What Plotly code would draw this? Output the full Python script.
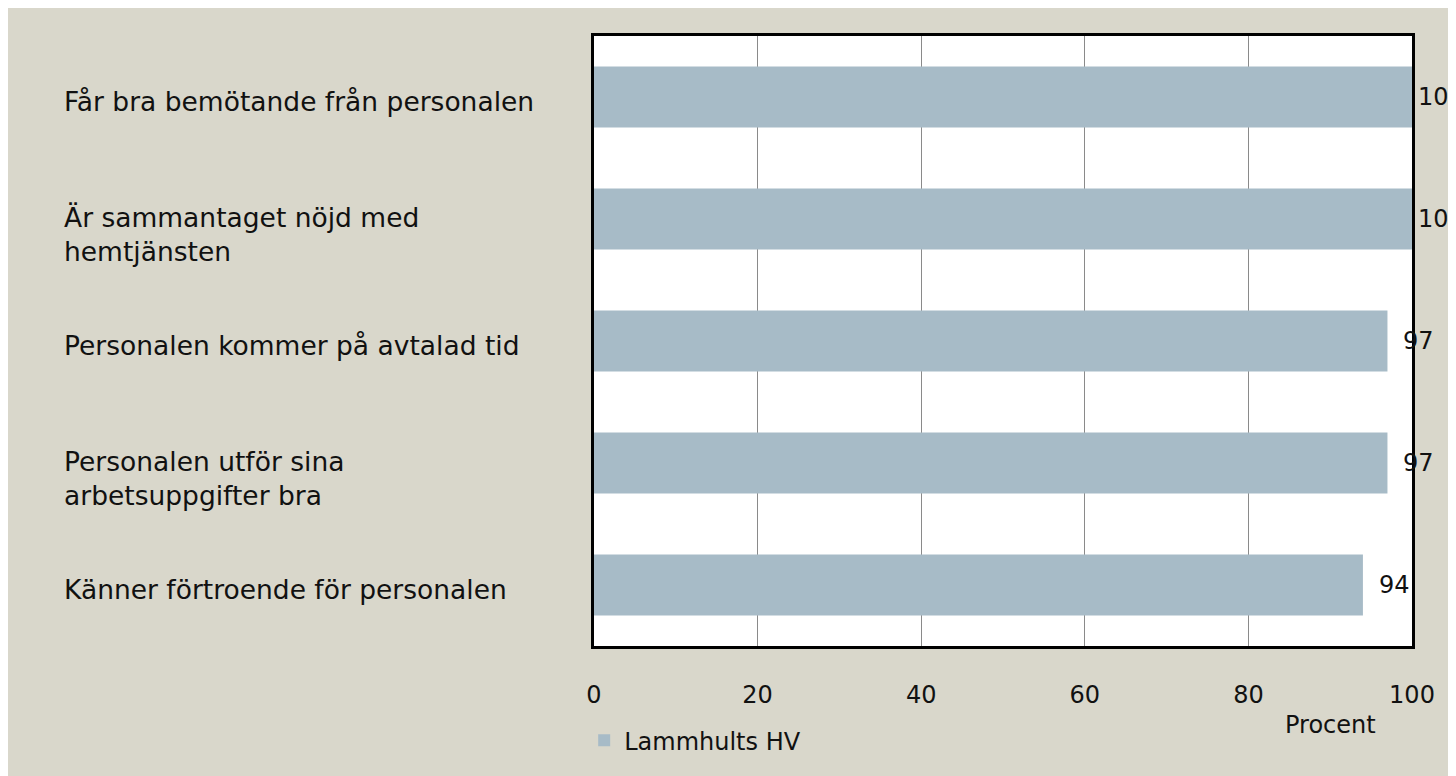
import plotly.graph_objects as go

categories = [
    "Får bra bemötande från personalen",
    "Är sammantaget nöjd med<br>hemtjänsten",
    "Personalen kommer på avtalad tid",
    "Personalen utför sina<br>arbetsuppgifter bra",
    "Känner förtroende för personalen",
]
values = [100, 100, 97, 97, 94]
series_name = "Lammhults HV"
x_ticks = [0, 20, 40, 60, 80, 100]
x_title = "Procent"

FONT = "DejaVu Sans"
FS_CAT = 26.5
FS = 24
BG = "#D9D7CB"
BAR = "#A7BBC7"
TXT = "#111111"

fig = go.Figure()
fig.add_trace(go.Bar(
    y=list(range(len(categories))), x=values, orientation="h",
    marker=dict(color=BAR, line=dict(width=0)),
    name=series_name, showlegend=True,
))

ann = []
for i, (c, v) in enumerate(zip(categories, values)):
    nlines = c.count("<br>") + 1
    ann.append(dict(x=0, xref="paper", y=i, yref="y", text=c, showarrow=False,
                    xanchor="left", yanchor="top", align="left", xshift=-532,
                    yshift=13 + 6 * (nlines - 1),
                    font=dict(family=FONT, size=FS_CAT, color=TXT)))
    ann.append(dict(x=v, xref="x", y=i, yref="y", text=str(v), showarrow=False,
                    xanchor="left", yanchor="middle", xshift=4 if v >= 100 else 14,
                    font=dict(family=FONT, size=FS, color=TXT)))
ann.append(dict(x=0.9, xref="paper", y=-0.13, yref="paper", text=x_title, showarrow=False,
                xanchor="center", yanchor="middle", font=dict(family=FONT, size=FS, color=TXT)))

fig.update_layout(
    width=1448, height=768,
    margin=dict(l=586, r=44, t=28, b=130, pad=0),
    paper_bgcolor=BG, plot_bgcolor="white",
    bargap=0.5,
    font=dict(family=FONT, size=FS, color=TXT),
    xaxis=dict(range=[0, 100], tickvals=x_ticks, showgrid=True, gridcolor="#8a8a8a", gridwidth=1,
               showline=True, linecolor="black", linewidth=3, mirror=True, zeroline=False,
               ticks="outside", ticklen=25, tickcolor="rgba(0,0,0,0)",
               tickfont=dict(family=FONT, size=FS, color=TXT)),
    yaxis=dict(range=[4.5, -0.5], showticklabels=False, showgrid=False, zeroline=False,
               showline=True, linecolor="black", linewidth=3, mirror=True),
    legend=dict(orientation="h", x=-0.012, xanchor="left", y=-0.155, yanchor="middle",
                bgcolor="rgba(0,0,0,0)", font=dict(family=FONT, size=FS, color=TXT)),
    annotations=ann,
)

fig.write_html("out.html")
